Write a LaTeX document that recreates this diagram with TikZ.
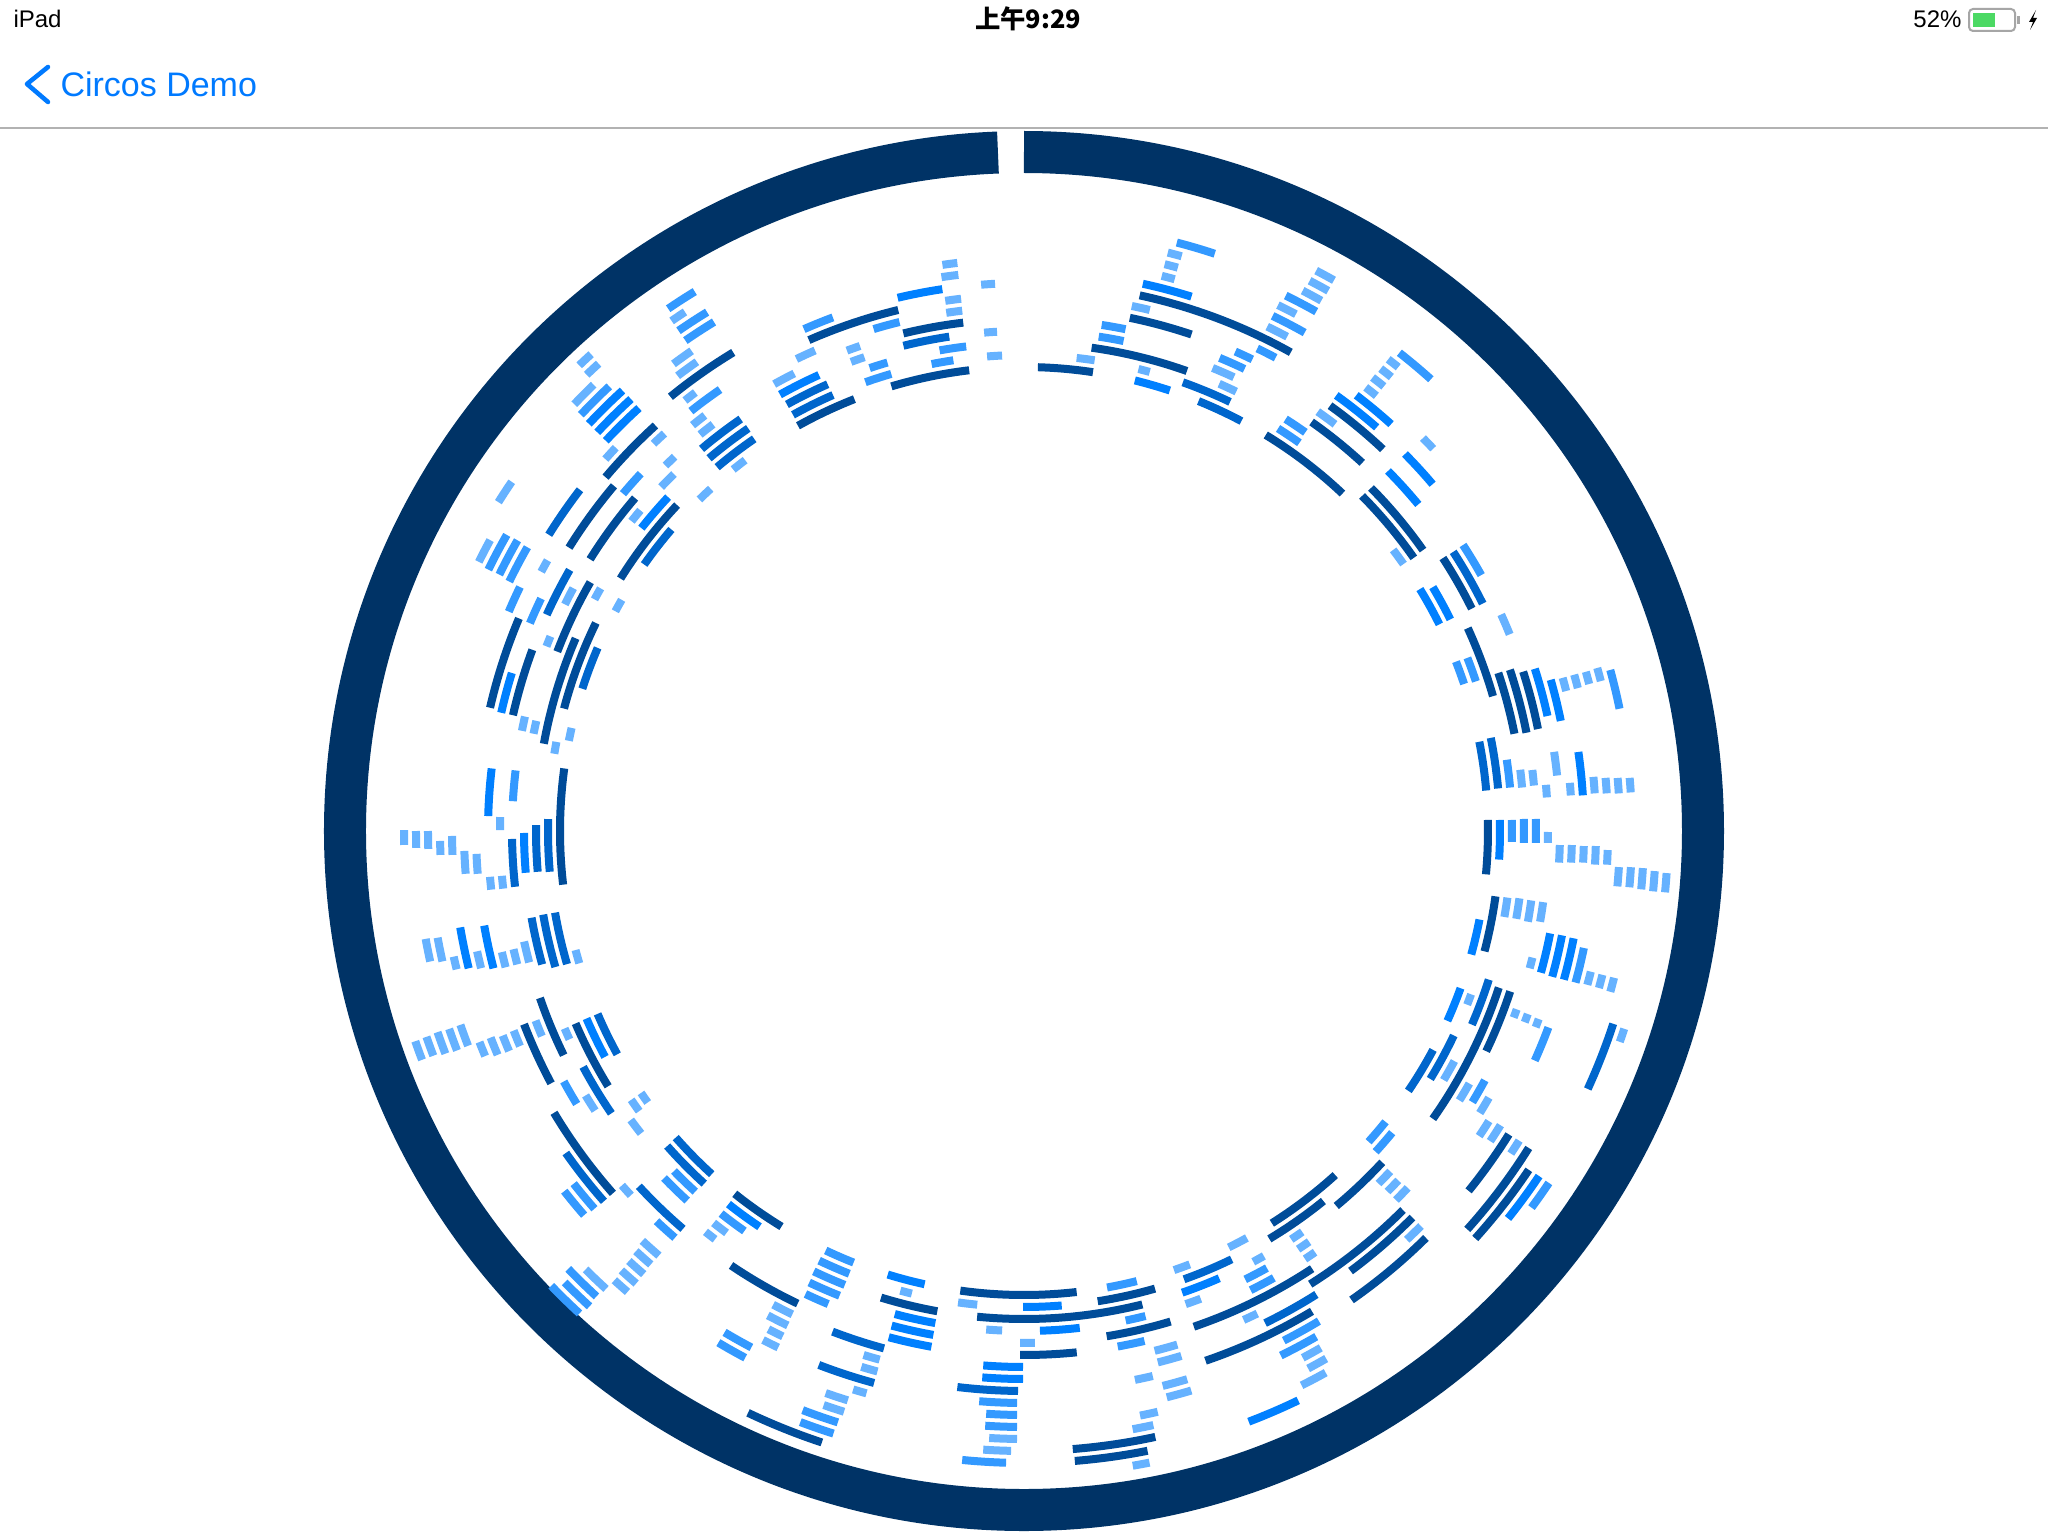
\documentclass[tikz,border=0pt]{standalone}
\usepackage{fontspec}
\setmainfont{Liberation Sans}
\newfontfamily\cjk{Noto Sans CJK SC}
\definecolor{ringblue}{HTML}{003366}
\definecolor{deepblue}{HTML}{004C99}
\definecolor{midblue}{HTML}{0066CC}
\definecolor{brightblue}{HTML}{0080FF}
\definecolor{softblue}{HTML}{3399FF}
\definecolor{paleblue}{HTML}{66B2FF}
\definecolor{navblue}{HTML}{007AFF}
\definecolor{rulegray}{HTML}{B2B2B2}
\definecolor{cellgreen}{HTML}{4CD964}
\tikzset{
  band/.style={line width=3pt},
  deep/.style={band,draw=deepblue},
  mid/.style={band,draw=midblue},
  bright/.style={band,draw=brightblue},
  soft/.style={band,draw=softblue},
  pale/.style={band,draw=paleblue},
  ring/.style={line width=15.75pt,draw=ringblue},
  status/.style={inner sep=0pt,font=\fontsize{9}{11}\selectfont}
}
% one band: end points in screen pixels, snapped to its track
\newcommand\bandarc[5]{%
  \pgfmathsetmacro\bandA{atan2(831-(#3),(#2)-1024)}%
  \pgfmathsetmacro\bandB{atan2(831-(#5),(#4)-1024)}%
  \pgfmathsetmacro\bandB{(\bandB)-(\bandA)>180 ? (\bandB)-360 : ((\bandA)-(\bandB)>180 ? (\bandB)+360 : (\bandB))}%
  \pgfmathsetmacro\bandR{464+12*round(((veclen((#2)-1024,(#3)-831)+veclen((#4)-1024,(#5)-831))/2-464)/12)}%
  \draw[#1] (\bandA:\bandR) arc[start angle=\bandA, end angle=\bandB, radius=\bandR*0.375pt];%
}
\begin{document}
\begin{tikzpicture}[x=0.375pt,y=0.375pt]
  \useasboundingbox (-1024,-705) rectangle (1024,831);
  \fill[white] (-1024,-705) rectangle (1024,831);
  % status bar
  \node[status,anchor=west] (carrier) at (-1011,812) {iPad};
  \node[status,font=\cjk\bfseries\fontsize{9.5}{11}\selectfont] (clock) at (4,812) {上午9:29};
  \node[status,anchor=east] (charge) at (938,812) {52\%};
  \draw[gray!70,line width=0.75pt,rounded corners=1.5pt] (945,822) rectangle (991,800);
  \fill[cellgreen] (949,818) rectangle (971,804);
  \fill[gray!70] (993,815) rectangle (996,807);
  \fill[black] (1012,821) -- (1005,809) -- (1009,809) -- (1006,801) -- (1013,813) -- (1009,813) -- cycle;
  % navigation bar
  \draw[navblue,line width=1.7pt,line cap=round,line join=round] (-976,764) -- (-997,747) -- (-976,729);
  \node[anchor=west,inner sep=0pt,text=navblue,font=\fontsize{12.75}{15}\selectfont] (title) at (-964,747) {Circos Demo};
  \draw[rulegray,line width=0.5pt] (-1024,703) -- (1024,703);
  % outer ring
  \draw[ring] (90:679) arc[start angle=90, end angle=-267.8, radius=679*0.375pt];
  % tracks
  \foreach \xa/\ya/\xb/\yb in {808/338/898/309, 903/332/963/321, 891/385/969/369, 797/424/854/398, 1038/364/1093/372,
    1092/345/1188/368, 1130/317/1192/333, 1140/294/1291/352, 1332/403/1384/448, 1313/420/1363/462,
    1267/433/1343/493, 1372/487/1426/548, 1363/495/1415/557, 1443/558/1475/607, 1468/628/1497/695,
    1498/673/1518/733, 1509/670/1530/732, 1522/672/1543/728, 1485/820/1493/875, 1493/896/1487/952,
    1500/988/1436/1121, 1512/992/1490/1053, 1513/1137/1470/1192, 1532/1150/1468/1230, 1532/1172/1477/1240,
    1383/1163/1338/1208, 1337/1177/1273/1225, 1325/1203/1270/1240, 1405/1212/1312/1287, 1415/1220/1352/1273,
    1428/1240/1353/1302, 1313/1270/1195/1330, 1313/1313/1207/1365, 960/1293/1077/1295, 977/1318/1143/1307,
    1098/1303/1156/1292, 1107/1338/1171/1323, 1020/1358/1077/1355, 1073/1452/1156/1440, 1075/1463/1148/1453,
    552/1114/611/1195, 733/1196/780/1229, 730/1267/797/1305, 880/1301/937/1313, 747/1415/821/1445,
    561/768/560/885, 522/1025/548/1085, 537/999/562/1056, 572/1025/607/1087, 568/547/613/485,
    588/558/635/498, 618/577/677/505, 603/475/655/425, 553/650/590/582, 487/707/518/618,
    512/715/533/650, 540/743/575/638, 562/708/596/623, 669/395/733/352}
    {\bandarc{deep}{\xa}{\ya}{\xb}{\yb}}
  \foreach \xa/\ya/\xb/\yb in {903/344/949/335, 785/401/828/385, 792/413/833/395, 1183/382/1230/402, 1199/400/1242/420,
    1453/552/1486/602, 1478/742/1492/790, 1490/738/1503/788, 1490/980/1475/1026, 1617/1025/1590/1090,
    1457/1037/1432/1080, 1437/1052/1410/1092, 1233/1262/1185/1282, 1318/1297/1267/1327, 957/1390/1018/1393,
    563/1155/602/1203, 673/1140/711/1175, 665/1148/703/1185, 637/1188/682/1230, 832/1333/883/1352,
    818/1367/873/1387, 510/839/513/887, 534/825/535/872, 546/819/547/872, 530/918/540/965,
    541/915/552/968, 553/913/564/965, 595/1015/616/1055, 581/1068/609/1115, 546/533/579/489,
    642/563/672/530, 543/613/570/570, 580/688/598/648, 700/447/740/418, 708/457/748/428, 717/467/755/440}
    {\bandarc{mid}{\xa}{\ya}{\xb}{\yb}}
  \foreach \xa/\ya/\xb/\yb in {897/295/942/287, 778/391/819/375, 1143/283/1192/295, 1135/380/1170/390, 1358/393/1393/422,
    1338/393/1377/427, 1406/453/1434/483, 1389/470/1420/503, 1433/587/1453/618, 1420/589/1442/623,
    1534/669/1552/715, 1550/680/1565/720, 1578/752/1588/795, 1498/820/1506/860, 1482/920/1473/955,
    1548/933/1542/973, 1560/935/1553/977, 1572/938/1565/980, 1460/988/1450/1022, 1542/1178/1510/1220,
    1220/1280/1183/1295, 1299/1402/1250/1425, 1023/1307/1062/1309, 1040/1332/1080/1330, 983/1369/1023/1370,
    982/1381/1023/1382, 727/1206/758/1229, 887/1277/924/1287, 894/1317/935/1325, 891/1328/933/1337,
    888/1340/931/1349, 488/768/486/816, 522/833/523/873, 457/928/466/969, 482/926/491/969,
    583/1020/603/1058, 640/527/668/497, 588/423/622/390, 597/432/630/398, 605/440/638/407, 498/712/512/673}
    {\bandarc{bright}{\xa}{\ya}{\xb}{\yb}}
  \foreach \xa/\ya/\xb/\yb in {803/327/832/315, 873/327/899/320, 939/347/966/345, 869/366/887/361, 931/361/953/358,
    865/381/891/373, 1099/335/1124/339, 1102/323/1126/327, 1177/242/1215/253, 1220/357/1245/368,
    1236/350/1253/358, 1258/347/1276/357, 1287/293/1316/312, 1274/313/1305/332, 1400/352/1432/378,
    1287/417/1307/430, 1279/427/1300/442, 1463/545/1485/573, 1455/662/1467/683, 1467/658/1480/680,
    1610/670/1623/708, 1505/760/1516/787, 1510/820/1518/842, 1522/819/1530/843, 1534/819/1543/843,
    1584/948/1577/983, 1550/1028/1538/1062, 1488/1082/1477/1105, 1552/1185/1532/1208, 1387/1123/1370/1143,
    1395/1135/1377/1153, 1268/1270/1247/1283, 1275/1280/1252/1293, 1320/1323/1285/1343, 1317/1338/1282/1358,
    1107/1287/1137/1282, 1126/1322/1146/1318, 1118/1348/1145/1343, 979/1404/1017/1406, 986/1417/1017/1417,
    985/1429/1017/1429, 962/1462/1006/1465, 572/1185/593/1210, 562/1193/582/1217, 673/1172/694/1193,
    662/1180/685/1203, 653/1225/673/1240, 565/1272/595/1298, 562/1285/588/1308, 550/1287/578/1315,
    720/1215/743/1233, 723/1335/750/1350, 717/1345/744/1360, 825/1252/853/1264, 818/1263/848/1277,
    813/1273/844/1287, 809/1283/839/1297, 805/1295/827/1307, 802/1412/837/1425, 800/1423/833/1435,
    512/770/510/801, 561/1083/575/1105, 485/568/507/535, 496/573/517/540, 506/580/527/547,
    505/610/520/587, 621/492/640/473, 579/413/608/385, 527/622/540/598, 667/307/695/292,
    678/330/707/312, 685/340/714/322, 690/410/719/388}
    {\bandarc{soft}{\xa}{\ya}{\xb}{\yb}}
  \foreach \xa/\ya/\xb/\yb in {942/262/957/260, 941/274/958/272, 981/283/995/283, 945/299/961/298, 946/311/962/309,
    984/331/997/331, 987/355/1002/354, 846/348/859/343, 850/359/864/356, 795/356/814/348,
    773/382/794/373, 1077/355/1095/358, 1132/305/1150/309, 1162/275/1175/278, 1165/263/1178/267,
    1168/252/1182/255, 1139/367/1150/371, 1213/367/1234/377, 1220/382/1237/390, 1316/271/1333/282,
    1309/282/1327/293, 1302/292/1320/303, 1279/303/1296/314, 1269/323/1287/337, 1390/357/1400/365,
    1382/367/1393/375, 1373/377/1385/385, 1366/387/1377/395, 1319/410/1336/423, 1423/438/1435/447,
    1393/550/1405/563, 1500/615/1513/633, 1562/678/1570/690, 1573/675/1582/687, 1585/672/1593/683,
    1597/668/1605/680, 1518/770/1528/787, 1532/770/1540/785, 1544/785/1553/797, 1553/752/1562/775,
    1568/783/1577/795, 1592/777/1600/793, 1604/778/1612/793, 1617/778/1625/793, 1628/778/1637/792,
    1546/832/1554/843, 1558/845/1566/863, 1570/845/1578/863, 1582/846/1590/863, 1594/846/1602/865,
    1606/850/1613/865, 1617/867/1624/887, 1628/867/1637/888, 1641/868/1648/890, 1653/871/1660/892,
    1665/873/1672/893, 1503/897/1510/918, 1517/898/1523/920, 1528/900/1535/923, 1542/902/1547/923,
    1530/957/1536/970, 1592/972/1588/985, 1603/975/1599/988, 1615/978/1611/992, 1473/995/1468/1005,
    1513/1008/1520/1020, 1525/1013/1532/1025, 1536/1018/1543/1030, 1628/1030/1623/1043, 1458/1063/1447/1082,
    1472/1085/1462/1102, 1493/1100/1483/1115, 1492/1123/1482/1138, 1505/1128/1493/1143, 1523/1143/1513/1155,
    1392/1173/1380/1185, 1400/1182/1389/1193, 1410/1190/1398/1202, 1423/1228/1407/1240, 1248/1240/1230/1250,
    1303/1233/1293/1242, 1310/1243/1300/1252, 1317/1255/1307/1262, 1265/1258/1255/1265, 1190/1265/1175/1273,
    1202/1302/1187/1308, 1258/1315/1245/1323, 1322/1350/1305/1362, 1327/1360/1310/1372, 1327/1375/1303/1388,
    958/1303/977/1307, 986/1332/1002/1333, 1020/1346/1035/1346, 1155/1352/1178/1347, 1158/1363/1182/1358,
    1135/1380/1153/1377, 1163/1387/1188/1382, 1167/1398/1192/1393, 989/1441/1017/1441, 983/1453/1011/1453,
    1140/1415/1158/1413, 1133/1431/1154/1428, 1133/1467/1150/1465, 619/1188/629/1197, 645/1238/662/1252,
    637/1250/652/1263, 628/1262/643/1275, 619/1273/634/1286, 611/1284/624/1296, 583/1272/605/1290,
    712/1225/725/1235, 703/1235/713/1242, 773/1305/792/1315, 767/1317/787/1327, 768/1330/782/1338,
    762/1342/777/1350, 900/1292/911/1297, 863/1357/879/1362, 861/1368/877/1373, 853/1390/866/1395,
    825/1395/847/1403, 823/1407/843/1415, 498/817/498/830, 402/830/402/845, 413/831/413/848,
    425/831/426/849, 438/841/438/855, 450/836/450/855, 463/851/463/874, 474/854/475/874,
    488/877/488/890, 500/876/500/889, 425/939/428/962, 436/938/440/962, 452/957/454/970,
    474/952/478/969, 498/953/503/968, 510/950/515/965, 522/942/527/963, 572/951/577/964,
    413/1042/419/1061, 423/1038/430/1057, 435/1033/442/1055, 446/1030/453/1052, 457/1026/465/1047,
    477/1043/483/1057, 487/1039/495/1056, 499/1037/507/1052, 510/1032/518/1047, 532/1022/540/1037,
    561/1030/568/1040, 583/1097/593/1112, 628/1102/638/1112, 638/1095/647/1103, 628/1122/639/1135,
    495/500/512/482, 475/560/490/540, 538/570/547/560, 630/520/640/510, 659/485/673/473,
    663/463/673/455, 698/498/710/488, 603/457/615/447, 650/440/663/432, 572/402/592/383,
    577/363/590/353, 585/373/598/363, 562/603/573/588, 592/598/600/588, 613/610/622/600,
    518/730/527/717, 530/733/537/721, 543/645/552/637, 565/740/572/728, 550/753/557/742,
    671/320/685/312, 672/362/691/350, 677/375/697/362, 683/398/695/392, 690/422/703/413,
    698/432/712/423, 732/468/745/460}
    {\bandarc{pale}{\xa}{\ya}{\xb}{\yb}}
\end{tikzpicture}
\end{document}
